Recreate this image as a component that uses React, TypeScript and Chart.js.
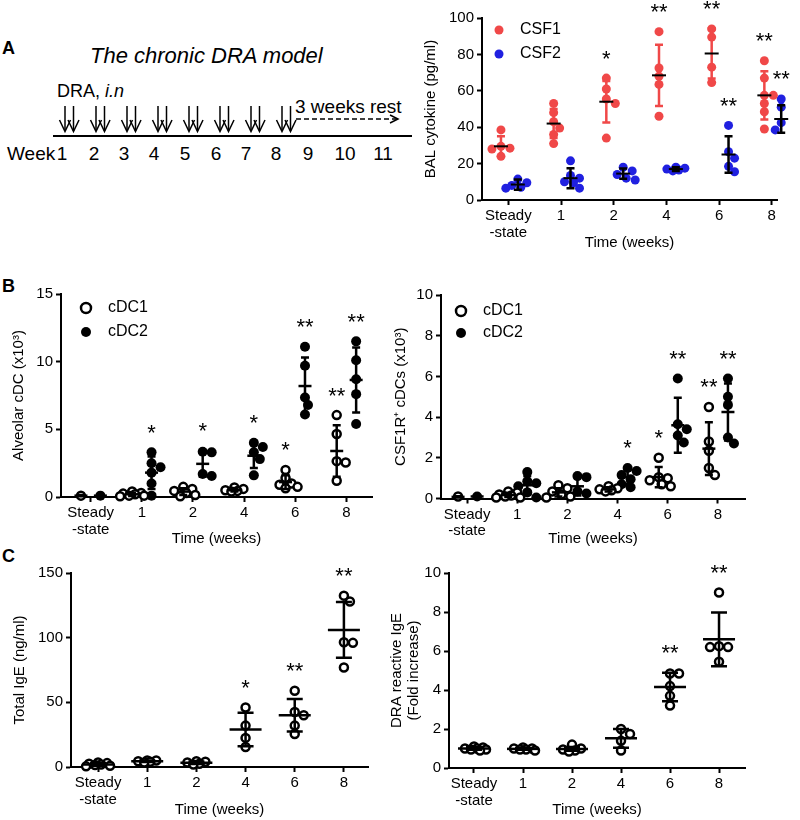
import React, { useEffect, useRef } from "react";
import { Chart, registerables } from "chart.js";

Chart.register(...registerables);

const FONT = "'Liberation Sans', Arial, Helvetica, sans-serif";
const RED = "#F04848";
const BLUE = "#2020E0";
const BLACK = "#000000";

// ---------- shared categories ----------
const categories: (string | string[])[] = [["Steady", "-state"], "1", "2", "4", "6", "8"];
const xAxisTitle = "Time (weeks)";

// ---------- schematic ----------
const weekNumbers = ["1", "2", "3", "4", "5", "6", "7", "8", "9", "10", "11"];
const dosingWeeks = [1, 2, 3, 4, 5, 6, 7, 8];

// ---------- Panel A : BAL cytokine (pg/ml) ----------
const csf1Points = [
  [38.5, 29.5, 28.5, 28, 24],
  [53, 48, 43, 39.5, 36, 31],
  [67, 61, 55.5, 53, 34],
  [92.5, 72.5, 68, 63.5, 46],
  [94, 89.5, 73, 64.5],
  [76.5, 67, 57.5, 57.5, 53, 48.5, 39],
];
const csf1Mean = [29.5, 42, 54, 68.5, 80.5, 57.5];
const csf1Sd = [5.5, 8, 11.4, 16.8, 13.8, 13.3];
const csf1Sig = ["", "", "*", "**", "**", "**"];

const csf2Points = [
  [11.5, 9.5, 8, 7, 6.5],
  [21.5, 13.5, 12, 10, 9.5, 6.5],
  [18, 16, 14, 12, 11],
  [18, 17.5, 17, 16.5, 16],
  [41, 26.5, 23, 18.5, 15.5],
  [55.5, 51, 47, 42.5, 41.5, 38.5],
];
const csf2Mean = [8.5, 12, 14.5, 17, 25, 44.5];
const csf2Sd = [2.8, 5.5, 2.8, 1, 10, 7.5];
const csf2Sig = ["", "", "", "", "**", "**"];

// ---------- Panel B left : Alveolar cDC (x10^3) ----------
const alvCdc1Points = [
  [0.1],
  [0.4, 0.3, 0.25, 0.2, 0.1, 0.1, 0.05],
  [0.75, 0.6, 0.45, 0.3, 0.15, 0.05],
  [0.7, 0.6, 0.5, 0.45, 0.4],
  [2.0, 1.4, 1.0, 0.9, 0.75, 0.65],
  [6.05, 4.65, 2.65, 2.55, 1.2],
];
const alvCdc1Mean = [0.1, 0.2, 0.4, 0.5, 1.1, 3.4];
const alvCdc1Sd = [0.05, 0.12, 0.25, 0.1, 0.5, 1.9];
const alvCdc1Sig = ["", "", "", "", "*", "**"];

const alvCdc2Points = [
  [0.1],
  [3.3, 2.5, 2.2, 1.8, 1.0, 0.1],
  [3.35, 3.3, 1.7, 1.55],
  [4.0, 3.7, 3.3, 2.8, 1.6],
  [11.1, 9.7, 7.35, 6.8, 6.1],
  [11.5, 10.1, 8.7, 7.6, 5.4],
];
const alvCdc2Mean = [0.1, 1.8, 2.45, 3.05, 8.2, 8.65];
const alvCdc2Sd = [0.02, 1.2, 0.95, 0.9, 2.1, 2.4];
const alvCdc2Sig = ["", "*", "*", "*", "**", "**"];

// ---------- Panel B right : CSF1R+ cDCs (x10^3) ----------
const csfCdc1Points = [
  [0.1],
  [0.35, 0.3, 0.2, 0.15, 0.1, 0.05, 0.05],
  [0.65, 0.5, 0.35, 0.2, 0.1, 0.05],
  [0.6, 0.5, 0.45, 0.4, 0.35],
  [2.0, 1.05, 1.0, 0.9, 0.7, 0.6],
  [4.5, 2.8, 2.35, 1.5, 1.15],
];
const csfCdc1Mean = [0.08, 0.17, 0.3, 0.45, 1.05, 2.45];
const csfCdc1Sd = [0.03, 0.1, 0.2, 0.1, 0.5, 1.3];
const csfCdc1Sig = ["", "", "", "", "*", "**"];

const csfCdc2Points = [
  [0.1],
  [1.3, 0.85, 0.75, 0.6, 0.3, 0.05],
  [1.1, 1.05, 0.35, 0.25],
  [1.5, 1.35, 1.15, 0.95, 0.7, 0.55],
  [5.9, 3.65, 3.4, 3.1, 2.75],
  [5.9, 5.0, 4.6, 3.0, 2.7],
];
const csfCdc2Mean = [0.1, 0.65, 0.6, 1.05, 3.6, 4.25];
const csfCdc2Sd = [0.02, 0.45, 0.45, 0.35, 1.35, 1.4];
const csfCdc2Sig = ["", "", "", "*", "**", "**"];

// ---------- Panel C left : Total IgE (ng/ml) ----------
const totalIgePoints = [
  [3.5, 3, 2.5, 2, 1.5, 1, 0.5],
  [5, 5, 4.5, 4, 3.5],
  [4.5, 4, 3.5, 2.5, 2],
  [46, 32, 22.5, 15.5],
  [59, 42.5, 40, 32, 25.5],
  [132.5, 128, 96.5, 96, 77],
];
const totalIgeMean = [2, 4.4, 3.3, 29, 40, 106];
const totalIgeSd = [1, 0.6, 1, 13, 12.5, 21.5];
const totalIgeSig = ["", "", "", "*", "**", "**"];

// ---------- Panel C right : DRA reactive IgE (fold increase) ----------
const draIgePoints = [
  [1.1, 1.05, 1.0, 1.0, 0.95, 0.95, 0.9],
  [1.05, 1.0, 1.0, 0.95, 0.95, 0.9],
  [1.2, 1.0, 0.95, 0.9, 0.85],
  [2.0, 1.75, 1.4, 0.9],
  [4.85, 4.85, 4.2, 3.7, 3.2],
  [9.0, 6.25, 6.2, 6.2, 5.45],
];
const draIgeMean = [1.0, 0.98, 0.98, 1.52, 4.15, 6.6];
const draIgeSd = [0.07, 0.05, 0.1, 0.48, 0.73, 1.38];
const draIgeSig = ["", "", "", "", "**", "**"];

// ---------- types ----------
type Series = {
  label: string;
  points: number[][];
  mean: number[];
  sd: number[];
  sig: string[];
  offset: number;
  fill: string;
  stroke: string;
  borderWidth: number;
  radius: number;
  barColor: string;
  meanColor: string;
};

type Panel = {
  id: string;
  box: { x: number; y: number; w: number; h: number };
  pad: { l: number; r: number; t: number; b: number };
  yW: number;
  xH: number;
  xTitlePad: number;
  xMin: number;
  xMax: number;
  yMax: number;
  yStep: number;
  yTitle: string | string[];
  yTitleLH: number;
  legend: { dx: number; dy: number; row: number; textDx: number; radius: number } | null;
  meanHalf: number;
  capHalf: number;
  barWidth: number;
  meanWidth: number;
  series: Series[];
};

const openCircle = { fill: "#ffffff", stroke: BLACK, borderWidth: 2.5, radius: 4 };
const filledCircle = { fill: BLACK, stroke: BLACK, borderWidth: 0, radius: 5 };

const panels: Panel[] = [
  {
    id: "A",
    box: { x: 400, y: 0, w: 400, h: 260 },
    pad: { l: 22, r: 23, t: 18, b: 0 },
    yW: 60,
    xH: 60,
    xTitlePad: 8,
    xMin: -0.5,
    xMax: 5.1,
    yMax: 100,
    yStep: 20,
    yTitle: "BAL cytokine (pg/ml)",
    yTitleLH: 1.2,
    legend: { dx: 17, dy: 12, row: 24, textDx: 38, radius: 4.5 },
    meanHalf: 7,
    capHalf: 4,
    barWidth: 2.5,
    meanWidth: 2,
    series: [
      { label: "CSF1", points: csf1Points, mean: csf1Mean, sd: csf1Sd, sig: csf1Sig, offset: -0.14,
        fill: RED, stroke: RED, borderWidth: 0, radius: 4.5, barColor: RED, meanColor: BLACK },
      { label: "CSF2", points: csf2Points, mean: csf2Mean, sd: csf2Sd, sig: csf2Sig, offset: 0.18,
        fill: BLUE, stroke: BLUE, borderWidth: 0, radius: 4.5, barColor: BLACK, meanColor: BLACK },
    ],
  },
  {
    id: "BL",
    box: { x: 0, y: 270, w: 400, h: 280 },
    pad: { l: 10, r: 28, t: 24, b: 0 },
    yW: 51,
    xH: 53,
    xTitlePad: 2,
    xMin: -0.58,
    xMax: 5.5,
    yMax: 15,
    yStep: 5,
    yTitle: "Alveolar cDC (x10\u00B3)",
    yTitleLH: 1.2,
    legend: { dx: 25, dy: 14, row: 24, textDx: 47, radius: 5 },
    meanHalf: 6.5,
    capHalf: 4,
    barWidth: 2.5,
    meanWidth: 2.5,
    series: [
      { label: "cDC1", points: alvCdc1Points, mean: alvCdc1Mean, sd: alvCdc1Sd, sig: alvCdc1Sig, offset: -0.19,
        ...openCircle, barColor: BLACK, meanColor: BLACK },
      { label: "cDC2", points: alvCdc2Points, mean: alvCdc2Mean, sd: alvCdc2Sd, sig: alvCdc2Sig, offset: 0.19,
        ...filledCircle, barColor: BLACK, meanColor: BLACK },
    ],
  },
  {
    id: "BR",
    box: { x: 380, y: 270, w: 420, h: 280 },
    pad: { l: 12, r: 55, t: 25, b: 0 },
    yW: 49,
    xH: 51.5,
    xTitlePad: 2,
    xMin: -0.52,
    xMax: 5.54,
    yMax: 10,
    yStep: 2,
    yTitle: "CSF1R\u207A cDCs (x10\u00B3)",
    yTitleLH: 1.2,
    legend: { dx: 20, dy: 16, row: 22, textDx: 42, radius: 5 },
    meanHalf: 6.5,
    capHalf: 4,
    barWidth: 2.5,
    meanWidth: 2.5,
    series: [
      { label: "cDC1", points: csfCdc1Points, mean: csfCdc1Mean, sd: csfCdc1Sd, sig: csfCdc1Sig, offset: -0.18,
        ...openCircle, barColor: BLACK, meanColor: BLACK },
      { label: "cDC2", points: csfCdc2Points, mean: csfCdc2Mean, sd: csfCdc2Sd, sig: csfCdc2Sig, offset: 0.2,
        ...filledCircle, barColor: BLACK, meanColor: BLACK },
    ],
  },
  {
    id: "CL",
    box: { x: 0, y: 545, w: 400, h: 275 },
    pad: { l: 11, r: 32, t: 28, b: 0 },
    yW: 60,
    xH: 53,
    xTitlePad: 1,
    xMin: -0.55,
    xMax: 5.49,
    yMax: 150,
    yStep: 50,
    yTitle: "Total IgE (ng/ml)",
    yTitleLH: 1.2,
    legend: null,
    meanHalf: 16,
    capHalf: 8,
    barWidth: 2.5,
    meanWidth: 2.5,
    series: [
      { label: "IgE", points: totalIgePoints, mean: totalIgeMean, sd: totalIgeSd, sig: totalIgeSig, offset: 0,
        ...openCircle, barColor: BLACK, meanColor: BLACK },
    ],
  },
  {
    id: "CR",
    box: { x: 380, y: 545, w: 420, h: 275 },
    pad: { l: 8.5, r: 55, t: 28, b: 0 },
    yW: 60.5,
    xH: 52,
    xTitlePad: 1,
    xMin: -0.51,
    xMax: 5.53,
    yMax: 10,
    yStep: 2,
    yTitle: ["DRA reactive IgE", "(Fold increase)"],
    yTitleLH: 1.133,
    legend: null,
    meanHalf: 16,
    capHalf: 8,
    barWidth: 2.5,
    meanWidth: 2.5,
    series: [
      { label: "DRA IgE", points: draIgePoints, mean: draIgeMean, sd: draIgeSd, sig: draIgeSig, offset: 0,
        ...openCircle, barColor: BLACK, meanColor: BLACK },
    ],
  },
];

// deterministic bee-swarm spreading of overlapping points (in pixels), width-limited
function swarmOffsets(vals: number[], pxPerUnit: number, pxPerCat: number): number[] {
  const MIN = 8;
  const STEP = 3;
  const MAXOFF = 12;
  const placed: [number, number][] = [];
  const out = vals.map(() => 0);
  const order = vals.map((_, i) => i).sort((a, b) => vals[b] - vals[a]);
  const cands: number[] = [];
  for (let k = 0; k * STEP <= MAXOFF; k++) {
    if (k === 0) cands.push(0);
    else cands.push(k * STEP, -k * STEP);
  }
  for (const i of order) {
    const py = vals[i] * pxPerUnit;
    let best = 0;
    let bestD = -1;
    let chosen: number | null = null;
    for (const px of cands) {
      const d = placed.length
        ? Math.min(...placed.map(([qx, qy]) => Math.hypot(qx - px, qy - py)))
        : Infinity;
      if (d >= MIN) {
        chosen = px;
        break;
      }
      if (d > bestD + 0.01) {
        bestD = d;
        best = px;
      }
    }
    const px = chosen === null ? best : chosen;
    placed.push([px, py]);
    out[i] = px / pxPerCat;
  }
  return out;
}

const STAR_GAP = 25;

function PanelChart({ p }: { p: Panel }) {
  const ref = useRef<HTMLCanvasElement>(null);
  useEffect(() => {
    const canvas = ref.current;
    if (!canvas) return;
    const areaW = p.box.w - p.pad.l - p.pad.r - p.yW;
    const areaH = p.box.h - p.pad.t - p.pad.b - p.xH;
    const pxPerCat = areaW / (p.xMax - p.xMin);
    const pxPerUnit = areaH / p.yMax;

    const datasets = p.series.map((s) => ({
      label: s.label,
      data: s.points.flatMap((vals, ci) => {
        const o = swarmOffsets(vals, pxPerUnit, pxPerCat);
        return vals.map((v, j) => ({ x: ci + s.offset + o[j], y: v }));
      }),
      pointRadius: s.radius,
      pointHoverRadius: s.radius,
      pointBackgroundColor: s.fill,
      pointBorderColor: s.stroke,
      pointBorderWidth: s.borderWidth,
      showLine: false,
      clip: false,
    }));

    const overlay = {
      id: "overlay" + p.id,
      afterDatasetsDraw(chart: any) {
        const ctx = chart.ctx;
        const xs = chart.scales.x;
        const ys = chart.scales.y;
        ctx.save();
        ctx.lineCap = "butt";
        p.series.forEach((s) => {
          s.points.forEach((vals, ci) => {
            const cx = xs.getPixelForValue(ci + s.offset);
            const m = s.mean[ci];
            const sd = s.sd[ci];
            const yT = ys.getPixelForValue(m + sd);
            const yB = ys.getPixelForValue(m - sd);
            const yM = ys.getPixelForValue(m);
            ctx.strokeStyle = s.barColor;
            ctx.lineWidth = p.barWidth;
            ctx.beginPath();
            ctx.moveTo(cx, yT);
            ctx.lineTo(cx, yB);
            ctx.moveTo(cx - p.capHalf, yT);
            ctx.lineTo(cx + p.capHalf, yT);
            ctx.moveTo(cx - p.capHalf, yB);
            ctx.lineTo(cx + p.capHalf, yB);
            ctx.stroke();
            ctx.strokeStyle = s.meanColor;
            ctx.lineWidth = p.meanWidth;
            ctx.beginPath();
            ctx.moveTo(cx - p.meanHalf, yM);
            ctx.lineTo(cx + p.meanHalf, yM);
            ctx.stroke();
            if (s.sig[ci]) {
              const topVal = Math.max(...vals, m + sd);
              const y = ys.getPixelForValue(topVal) - STAR_GAP;
              ctx.fillStyle = BLACK;
              ctx.font = `22px ${FONT}`;
              ctx.textAlign = "center";
              ctx.textBaseline = "alphabetic";
              ctx.fillText(s.sig[ci], cx, y + 12.5);
            }
          });
        });
        ctx.restore();
      },
      afterDraw(chart: any) {
        if (!p.legend) return;
        const ctx = chart.ctx;
        const a = chart.chartArea;
        const lg = p.legend;
        ctx.save();
        p.series.forEach((s, i) => {
          const y = a.top + lg.dy + i * lg.row;
          const x = a.left + lg.dx;
          ctx.beginPath();
          ctx.arc(x, y, lg.radius, 0, Math.PI * 2);
          ctx.fillStyle = s.fill;
          ctx.fill();
          if (s.borderWidth) {
            ctx.lineWidth = s.borderWidth;
            ctx.strokeStyle = s.stroke;
            ctx.stroke();
          }
          ctx.fillStyle = BLACK;
          ctx.font = `16px ${FONT}`;
          ctx.textAlign = "left";
          ctx.textBaseline = "middle";
          ctx.fillText(s.label, a.left + lg.textDx, y);
        });
        ctx.restore();
      },
    };

    const tickFont = { family: FONT, size: 15, lineHeight: 1.1 };
    const grid = {
      display: true,
      drawOnChartArea: false,
      drawTicks: true,
      tickLength: 5,
      tickColor: BLACK,
      tickWidth: 2,
    };
    const border = { display: true, color: BLACK, width: 2 };

    const chart = new Chart(canvas, {
      type: "scatter",
      data: { datasets: datasets as any },
      options: {
        animation: false,
        responsive: false,
        maintainAspectRatio: false,
        devicePixelRatio: 1,
        events: [],
        layout: { padding: { left: p.pad.l, right: p.pad.r, top: p.pad.t, bottom: p.pad.b } },
        plugins: { legend: { display: false }, tooltip: { enabled: false } },
        scales: {
          x: {
            type: "linear",
            min: p.xMin,
            max: p.xMax,
            afterBuildTicks: (s: any) => {
              s.ticks = categories.map((_, i) => ({ value: i }));
            },
            afterFit: (s: any) => {
              s.height = p.xH;
            },
            ticks: {
              callback: (v: any) => {
                const i = Math.round(Number(v));
                return categories[i] ?? "";
              },
              font: tickFont,
              color: BLACK,
              padding: 3,
              maxRotation: 0,
              autoSkip: false,
            },
            grid,
            border,
            title: {
              display: true,
              text: xAxisTitle,
              color: BLACK,
              font: { family: FONT, size: 15, lineHeight: 1.2 },
              padding: { top: 0, bottom: p.xTitlePad },
            },
          },
          y: {
            type: "linear",
            min: 0,
            max: p.yMax,
            afterFit: (s: any) => {
              s.width = p.yW;
            },
            ticks: { stepSize: p.yStep, font: tickFont, color: BLACK, padding: 3 },
            grid,
            border,
            title: {
              display: true,
              text: p.yTitle,
              color: BLACK,
              font: { family: FONT, size: 15, lineHeight: p.yTitleLH },
              padding: { top: 0, bottom: 0 },
            },
          },
        },
      } as any,
      plugins: [overlay],
    });
    return () => chart.destroy();
  }, [p]);

  return (
    <canvas
      ref={ref}
      width={p.box.w}
      height={p.box.h}
      style={{ position: "absolute", left: p.box.x, top: p.box.y, width: p.box.w, height: p.box.h }}
    />
  );
}

const weekLabelX = [62, 94, 124, 154, 185, 216, 246, 276, 308, 345, 383];

function Schematic() {
  const arrows: React.ReactNode[] = [];
  dosingWeeks.forEach((w, i) => {
    const base = 65 + 31 * i;
    [base, base + 8.5].forEach((x, j) => {
      arrows.push(
        <g key={`${w}-${j}`} stroke={BLACK} strokeWidth={1.5} fill="none">
          <line x1={x} y1={106} x2={x} y2={131} />
          <polyline points={`${x - 5.5},${120} ${x},${131.5} ${x + 5.5},${120}`} />
        </g>
      );
    });
  });
  return (
    <svg
      width={800}
      height={820}
      style={{ position: "absolute", left: 0, top: 0 }}
      fontFamily={FONT}
    >
      <text x={2} y={54} fontSize={18} fontWeight="bold">A</text>
      <text x={2} y={292} fontSize={18} fontWeight="bold">B</text>
      <text x={2} y={562} fontSize={18} fontWeight="bold">C</text>
      <text x={90} y={63} fontSize={22} fontStyle="italic">The chronic DRA model</text>
      <text x={57} y={97} fontSize={18}>
        DRA, <tspan fontStyle="italic">i.n</tspan>
      </text>
      {arrows}
      <line x1={53} y1={136} x2={412} y2={136} stroke={BLACK} strokeWidth={2} />
      <text x={7} y={160} fontSize={19}>Week</text>
      {weekNumbers.map((n, i) => (
        <text key={n} x={weekLabelX[i]} y={160} fontSize={19} textAnchor="middle">
          {n}
        </text>
      ))}
      <text x={295} y={113} fontSize={19}>3 weeks rest</text>
      <line x1={296} y1={119} x2={397} y2={119} stroke={BLACK} strokeWidth={1.5} strokeDasharray="5 3" />
      <polyline points="390,115 398,119 390,123" fill="none" stroke={BLACK} strokeWidth={1.5} />
    </svg>
  );
}

export default function App() {
  return (
    <div
      style={{
        position: "absolute",
        left: 0,
        top: 0,
        width: 800,
        height: 820,
        background: "#ffffff",
        overflow: "hidden",
      }}
    >
      <Schematic />
      {panels.map((p) => (
        <PanelChart key={p.id} p={p} />
      ))}
    </div>
  );
}
